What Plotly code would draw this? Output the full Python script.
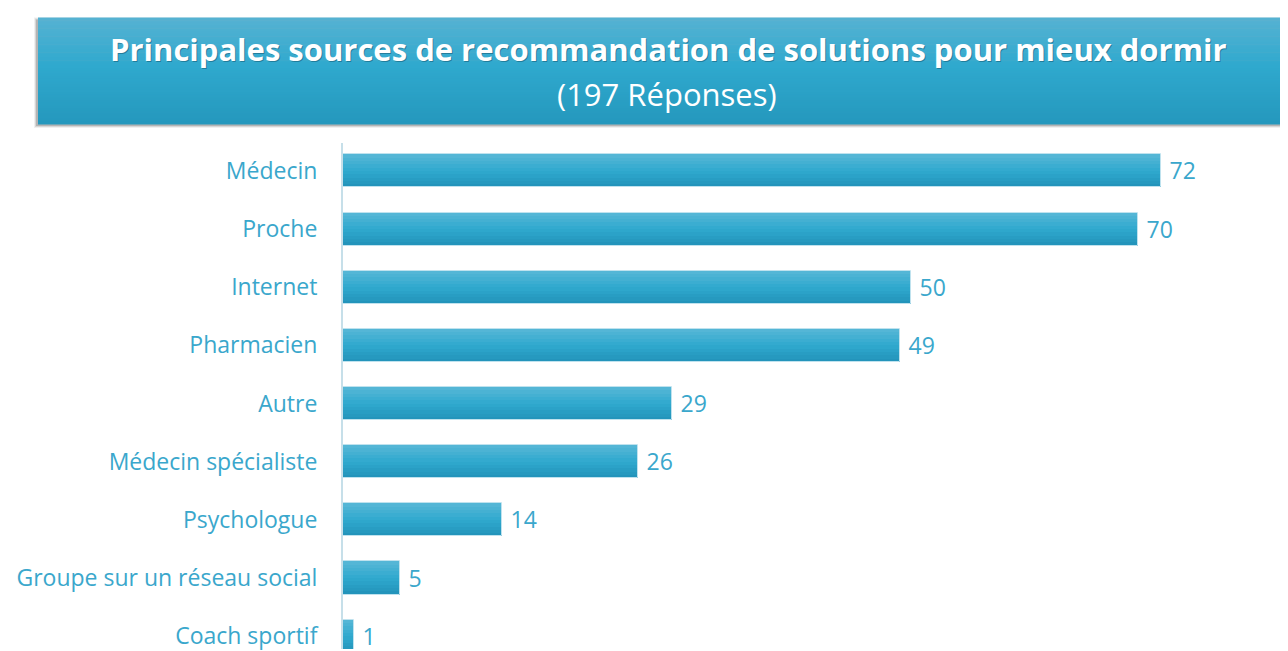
import plotly.graph_objects as go

categories = ["Médecin", "Proche", "Internet", "Pharmacien", "Autre",
              "Médecin spécialiste", "Psychologue",
              "Groupe sur un réseau social", "Coach sportif"]
values = [72, 70, 50, 49, 29, 26, 14, 5, 1]

title_main = "Principales sources de recommandation de solutions pour mieux dormir"
title_sub = "(197 Réponses)"

# the page puts the figure 8px in from the top-left corner
OFF = 8
W, H = 1288 - OFF, 651 - OFF
ML, MT, MB, MR = 343 - OFF, 143 - OFF, 0, 0
PW, PH = W - ML - MR, H - MT - MB
FONT = "Open Sans, sans-serif"


def px(x):
    return (x - OFF - ML) / PW


def py(y):
    return (H - MB - (y - OFF)) / PH


def mix(c1, c2, t):
    a = [int(c1[i:i + 2], 16) for i in (1, 3, 5)]
    b = [int(c2[i:i + 2], 16) for i in (1, 3, 5)]
    return "rgb(%d,%d,%d)" % tuple(round(a[i] + (b[i] - a[i]) * t) for i in range(3))


fig = go.Figure()

# bars drawn as stacked slices to fake the vertical gradient
bar_w = 0.57
n = 10
for k in range(n):
    t = k / (n - 1)
    if t < 0.5:
        col = mix("#54b6d6", "#2fa9ce", t / 0.5)
    else:
        col = mix("#2fa9ce", "#2394bb", (t - 0.5) / 0.5)
    fig.add_trace(go.Bar(
        x=values, y=categories, orientation="h",
        width=bar_w / n, offset=-bar_w / 2 + k * bar_w / n,
        marker=dict(color=col, line=dict(width=0)),
        hoverinfo="skip", showlegend=False
    ))

# outline + value labels
fig.add_trace(go.Bar(
    x=values, y=categories, orientation="h",
    width=bar_w, offset=-bar_w / 2,
    marker=dict(color="rgba(0,0,0,0)", line=dict(color="#bfe2ee", width=1)),
    text=[" %d" % v for v in values], textposition="outside", cliponaxis=False,
    textfont=dict(family=FONT, size=23, color="#3aa7cc"),
    showlegend=False
))

# title banner: soft shadow then gradient strips
shapes = []
for i, op in enumerate([0.08, 0.14, 0.22]):
    d = 4 - i
    shapes.append(dict(type="rect", xref="paper", yref="paper",
                       x0=px(38 - d), x1=px(1300), y0=py(124 + d), y1=py(17 - d + 4),
                       fillcolor="rgba(60,60,60,%.2f)" % op, line=dict(width=0), layer="above"))
top, bot = 17, 124
steps = 40
for s in range(steps):
    t = s / (steps - 1)
    if t < 0.45:
        col = mix("#55b2d2", "#2fa9ce", t / 0.45)
    else:
        col = mix("#2fa9ce", "#2598bd", (t - 0.45) / 0.55)
    y0 = top + (bot - top) * s / steps
    y1 = top + (bot - top) * (s + 1) / steps
    shapes.append(dict(type="rect", xref="paper", yref="paper",
                       x0=px(38), x1=px(1300), y0=py(y1 + 0.5), y1=py(y0),
                       fillcolor=col, line=dict(width=0), layer="above"))

annotations = [
    dict(xref="paper", yref="paper", x=px(669), y=py(50), text="<b>" + title_main + "</b>",
         xanchor="center", yanchor="middle", showarrow=False,
         font=dict(family=FONT, size=31, color="rgba(0,40,60,0.35)")),
    dict(xref="paper", yref="paper", x=px(668), y=py(49), text="<b>" + title_main + "</b>",
         xanchor="center", yanchor="middle", showarrow=False,
         font=dict(family=FONT, size=31, color="white")),
    dict(xref="paper", yref="paper", x=px(667), y=py(94), text=title_sub,
         xanchor="center", yanchor="middle", showarrow=False,
         font=dict(family=FONT, size=31, color="white")),
]

fig.update_layout(
    width=W, height=H,
    margin=dict(l=ML, r=MR, t=MT, b=MB, pad=0),
    paper_bgcolor="white", plot_bgcolor="white",
    barmode="overlay", bargap=0,
    shapes=shapes, annotations=annotations,
    xaxis=dict(range=[0, PW / 11.36], showgrid=False, zeroline=False,
               showticklabels=False, ticks=""),
    yaxis=dict(range=[8.22, -0.48], showgrid=False, zeroline=False,
               showline=True, linecolor="#c6dfe9", linewidth=2, ticks="",
               ticklabelstandoff=19,
               tickfont=dict(family=FONT, size=23, color="#3aa7cc")),
)

fig.write_html("out.html")
